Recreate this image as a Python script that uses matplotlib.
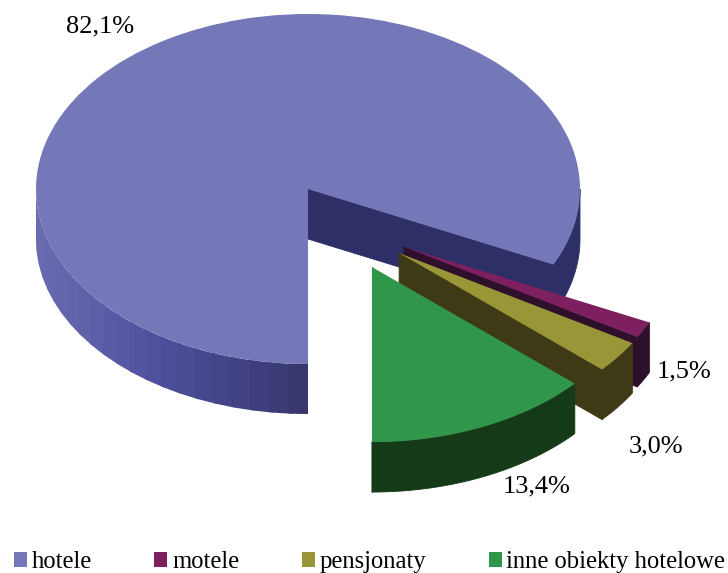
import numpy as np
import matplotlib
matplotlib.use("Agg")
import matplotlib.pyplot as plt
from matplotlib.colors import to_rgb

labels = ["hotele", "motele", "pensjonaty", "inne obiekty hotelowe"]
values = [82.1, 1.5, 3.0, 13.4]
value_labels = ["82,1%", "1,5%", "3,0%", "13,4%"]
top_colors = ["#7478b8", "#7e2060", "#989636", "#2f964a"]
side_colors = ["#2e2f66", "#2e0f2c", "#3e3a15", "#143a17"]

# pixel layout of the reference
W, H = 728, 573
CX, CY, RX, RY = 308, 189, 272, 175
DEPTH = 50 / RY
offsets = [(0, 0), (0.353, -0.331), (0.335, -0.366), (0.235, -0.446)]
label_pos = [(100, 26), (684, 371), (656, 446), (537, 486)]

plt.rcParams['font.family'] = ['Liberation Serif', 'DejaVu Serif']
FS = 19
LEG_FS = 17.7


def px(x, y):
    return (x - CX) / RX, (CY - y) / RY


def rim_color(x):
    # gradient on the left side of the big slice
    stops = [-1.0, -0.58, 0.0]
    cols = np.array([to_rgb("#6a6cb0"), to_rgb("#4f51a0"), to_rgb("#36366c")])
    return [np.interp(x, stops, cols[:, k]) for k in range(3)]


def rim_poly(ox, oy, t1, t2):
    a = np.radians(np.linspace(t1, t2, max(2, int(abs(t2 - t1)) + 2)))
    xs = ox + np.cos(a)
    ys = oy + np.sin(a)
    return np.r_[xs, xs[::-1]], np.r_[ys, ys[::-1] - DEPTH]


fig = plt.figure(figsize=(W / 100, H / 100), dpi=100)
ax = fig.add_axes([0, 0, 1, 1])
wedges, _ = ax.pie(values, startangle=-90, counterclock=False, radius=1,
                   colors=top_colors, wedgeprops={'linewidth': 0})
ax.set_aspect('auto')
ax.set_xlim(-CX / RX, (W - CX) / RX)
ax.set_ylim(-(H - CY) / RY, CY / RY)

for i, w in enumerate(wedges):
    ox, oy = offsets[i]
    w.set_center((ox, oy))
    w.set_zorder(i * 10 + 3)

    # cut face at the start of the slice
    t = np.radians(w.theta1)
    ex, ey = ox + np.cos(t), oy + np.sin(t)
    ax.fill([ox, ex, ex, ox], [oy, ey, ey - DEPTH, oy - DEPTH],
            color=side_colors[i], lw=0.6, zorder=i * 10 + 1)

    if i == 0:
        # right part is flat, left part goes through bands
        xs, ys = rim_poly(ox, oy, w.theta1, -360)
        ax.fill(xs, ys, color=side_colors[i], lw=0.6, zorder=1)
        edges = np.linspace(-180, w.theta2, 23)
        for a, b in zip(edges[:-1], edges[1:]):
            xs, ys = rim_poly(ox, oy, a, min(b + 1.0, w.theta2))
            ax.fill(xs, ys, color=rim_color(np.cos(np.radians((a + b) / 2))),
                    lw=0, zorder=2)
    else:
        xs, ys = rim_poly(ox, oy, w.theta1, w.theta2)
        ax.fill(xs, ys, color=side_colors[i], lw=0.6, zorder=i * 10 + 2)

for txt, pos in zip(value_labels, label_pos):
    x, y = px(*pos)
    ax.text(x, y, txt, fontsize=FS, ha='center', va='center', color='black', zorder=100)

leg = ax.legend(wedges, labels, ncols=4, frameon=False, fontsize=LEG_FS,
                loc='lower left', bbox_to_anchor=(14 / W, 1 - 573 / H),
                borderpad=0, borderaxespad=0, handlelength=0.53, handleheight=0.53,
                handletextpad=0.2, columnspacing=2.53)

fig.savefig("out.png", dpi=100)
